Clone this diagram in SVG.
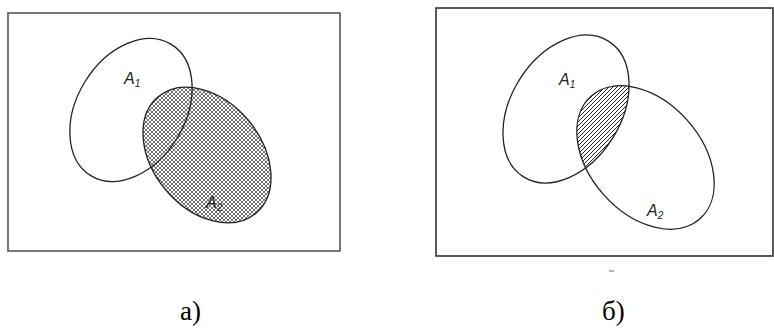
<svg xmlns="http://www.w3.org/2000/svg" width="774" height="334" viewBox="0 0 774 334">
<style>
.frame{fill:none;stroke:#555;stroke-width:1.6}
.set{fill:none;stroke:#222;stroke-width:1.3}
.lbl{font-family:"Liberation Sans",Arial,sans-serif;font-style:italic;font-size:16px;fill:#222}
.sub{font-size:10px}
.cap{font-family:"Liberation Serif","Times New Roman",serif;font-size:27px;fill:#000}
</style>
<defs>
<pattern id="mesh" patternUnits="userSpaceOnUse" width="4" height="4">
<rect width="4" height="4" fill="#fff"/>
<path d="M-1,1 L1,-1 M0,4 L4,0 M3,5 L5,3" stroke="#444" stroke-width="0.8"/>
<path d="M-1,3 L1,5 M0,0 L4,4 M3,-1 L5,1" stroke="#555" stroke-width="0.8"/>
</pattern>
<pattern id="hatch" patternUnits="userSpaceOnUse" width="4" height="4">
<rect width="4" height="4" fill="#fff"/>
<path d="M-1,1 L1,-1 M0,4 L4,0 M3,5 L5,3" stroke="#222" stroke-width="1"/>
</pattern>
<clipPath id="clipA2a">
<ellipse cx="207" cy="155" rx="54" ry="76" transform="rotate(-40 207 155)"/>
</clipPath>
<clipPath id="clipA1b">
<ellipse cx="566" cy="109" rx="55" ry="80" transform="rotate(32 566 109)"/>
</clipPath>
<clipPath id="clipA2b">
<ellipse cx="645.5" cy="157.5" rx="56" ry="82" transform="rotate(-41.6 645.5 157.5)"/>
</clipPath>
</defs>

<g id="panel-a">
<rect class="frame" x="8" y="13" width="332" height="238"/>
<g id="a-A2">
<g clip-path="url(#clipA2a)">
<rect x="130" y="70" width="160" height="170" fill="url(#mesh)"/>
</g>
<ellipse class="set" cx="207" cy="155" rx="54" ry="76" transform="rotate(-40 207 155)"/>
<text class="lbl" x="206" y="208">A<tspan class="sub" dy="3">2</tspan></text>
</g>
<g id="a-A1">
<ellipse class="set" cx="131" cy="110" rx="54" ry="77" transform="rotate(31.5 131 110)"/>
<text class="lbl" x="124" y="84">A<tspan class="sub" dy="3">1</tspan></text>
</g>
</g>

<g id="panel-b">
<rect class="frame" x="436" y="8" width="337" height="248" style="stroke:#333"/>
<g id="b-intersection" clip-path="url(#clipA1b)">
<g clip-path="url(#clipA2b)">
<rect x="560" y="70" width="90" height="130" fill="url(#hatch)"/>
</g>
</g>
<g id="b-A1">
<ellipse class="set" cx="566" cy="109" rx="55" ry="80" transform="rotate(32 566 109)"/>
<text class="lbl" x="559" y="85">A<tspan class="sub" dy="3">1</tspan></text>
</g>
<g id="b-A2">
<ellipse class="set" cx="645.5" cy="157.5" rx="56" ry="82" transform="rotate(-41.6 645.5 157.5)"/>
<text class="lbl" x="647" y="216">A<tspan class="sub" dy="3">2</tspan></text>
</g>
<line x1="609" y1="271" x2="614" y2="271" stroke="#999" stroke-width="1.5"/>
</g>

<g id="captions">
<text class="cap" x="180" y="320">а)</text>
<text class="cap" x="602" y="320">б)</text>
</g>
</svg>
